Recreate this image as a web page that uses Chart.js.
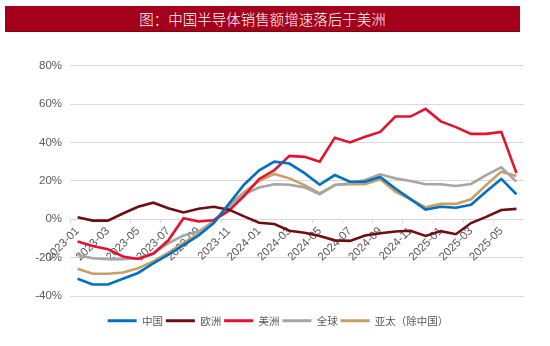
<!DOCTYPE html>
<html>
<head>
<meta charset="utf-8">
<script src="https://cdn.jsdelivr.net/npm/chart.js@4/dist/chart.umd.min.js"></script>
<style>
  html, body { margin: 0; padding: 0; background: #fff; }
  #wrap { position: relative; width: 550px; height: 346px; }
  #title {
    position: absolute; left: 5px; top: 6px; width: 515px; height: 26px;
    background: #A5001B; color: #fff; box-sizing: border-box;
    border-bottom: 1px solid #7d0014;
    font-family: "Noto Sans CJK SC", sans-serif; font-size: 14.5px; font-weight: 300;
    line-height: 26px; text-align: center;
  }
  canvas { position: absolute; left: 0; top: 0; }
</style>
</head>
<body>
<div id="wrap">
  <canvas id="c" width="550" height="346"></canvas>
  <div id="title">图：中国半导体销售额增速落后于美洲</div>
</div>
<script>
const months = [
  '2023-01','2023-02','2023-03','2023-04','2023-05','2023-06','2023-07','2023-08','2023-09','2023-10','2023-11','2023-12',
  '2024-01','2024-02','2024-03','2024-04','2024-05','2024-06','2024-07','2024-08','2024-09','2024-10','2024-11','2024-12',
  '2025-01','2025-02','2025-03','2025-04','2025-05','2025-06'
];
const seriesNames = ['中国', '欧洲', '美洲', '全球', '亚太（除中国）'];
const china    = [-31, -34, -34, -31, -28, -23, -18.5, -13.5, -8.5, -2, 8, 18, 25.5, 30, 29, 24, 18, 23, 19.5, 19.5, 22, 16, 10.5, 5, 6.5, 6, 7.5, 14.5, 21, 13];
const europe   = [1, -0.7, -0.7, 3, 6.5, 8.6, 5.7, 3.5, 5.5, 6.5, 5, 1.5, -1.8, -2.5, -6, -7, -8.7, -11, -11.3, -8.5, -7.3, -6.4, -6, -8.7, -6.2, -7.8, -2, 1.2, 4.8, 5.4];
const americas = [-11.6, -14, -15.6, -19.4, -20.7, -18, -11, 0.5, -1.2, -0.5, 4.5, 12, 21, 25.5, 33, 32.5, 30, 42.5, 40, 43, 45.5, 53.5, 53.5, 57.5, 51, 48, 44.5, 44.5, 45.5, 24];
const world    = [-18.6, -20.3, -20.8, -20.8, -20.3, -17.7, -12.5, -8.5, -6.4, -1, 6.5, 13, 16.5, 18.2, 18, 16.6, 13, 17.8, 18.7, 20.4, 23.4, 21.3, 19.9, 18.2, 18.2, 17.3, 18.4, 23, 27, 19.6];
const apac     = [-25.8, -28.4, -28.4, -27.8, -25.5, -22, -17.4, -12.5, -7.5, -1, 7.5, 14, 20, 23.6, 21.3, 17.8, 13.5, 17.8, 18.2, 18.2, 20.8, 14.4, 10.4, 6.2, 8, 8, 10.4, 17.8, 24.8, 22.5];
const yTicks = [-40, -20, 0, 20, 40, 60, 80];

const colors = ['#0070C0', '#6E0E12', '#E3122D', '#A6A6A6', '#C8A064'];
const values = [china, europe, americas, world, apac];

const FONT = '"Liberation Sans", "Noto Sans CJK SC", sans-serif';

new Chart(document.getElementById('c'), {
  type: 'line',
  data: {
    labels: months,
    datasets: values.map((v, i) => ({
      label: seriesNames[i],
      data: v,
      borderColor: colors[i],
      backgroundColor: colors[i],
      borderWidth: 2.6,
      pointRadius: 0,
      tension: 0,
      fill: false
    }))
  },
  options: {
    responsive: false,
    animation: false,
    layout: { padding: { left: 32, right: 26, top: 65.7, bottom: 10 } },
    plugins: {
      tooltip: { enabled: false },
      legend: {
        position: 'bottom',
        align: 'center',
        title: { display: true, text: '', font: { size: 12, lineHeight: 1 }, padding: { top: 4.5, bottom: 0 } },
        labels: {
          boxWidth: 29,
          boxHeight: 3,
          padding: 3,
          color: '#595959',
          font: { family: '"Noto Sans CJK SC", sans-serif', size: 10.5 },
          generateLabels(chart) {
            return Chart.defaults.plugins.legend.labels.generateLabels(chart).map(l => ({
              ...l, lineWidth: 0, fillStyle: l.strokeStyle
            }));
          }
        }
      }
    },
    scales: {
      x: {
        type: 'category',
        position: { y: 0 },
        offset: true,
        border: { display: false },
        grid: {
          offset: true,
          drawOnChartArea: false,
          drawTicks: true,
          tickLength: 4,
          color: ctx => (ctx.index % 2 === 0 ? '#D9D9D9' : 'rgba(0,0,0,0)'),
          lineWidth: 1
        },
        ticks: {
          autoSkip: false,
          maxRotation: 45,
          minRotation: 45,
          padding: 1,
          color: '#595959',
          font: { family: FONT, size: 11.5 },
          callback(value, index) { return index % 2 === 0 ? months[index] : ''; }
        }
      },
      y: {
        min: yTicks[0],
        max: yTicks[yTicks.length - 1],
        afterFit(scale) { scale.width = 38; },
        afterBuildTicks(scale) { scale.ticks = yTicks.map(v => ({ value: v })); },
        border: { display: false },
        grid: { color: '#D9D9D9', lineWidth: 1, drawTicks: false },
        ticks: {
          padding: 8,
          color: '#595959',
          font: { family: FONT, size: 11.5 },
          callback: v => v + '%'
        }
      }
    }
  }
});
</script>
</body>
</html>
